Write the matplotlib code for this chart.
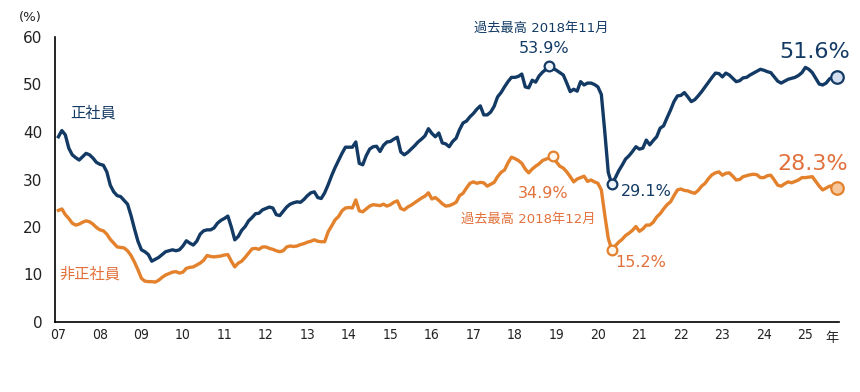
import numpy as np
import pandas as pd
import matplotlib
matplotlib.use('Agg')
import matplotlib.pyplot as plt

# 人手不足割合（月次、2007年1月〜2025年10月）
months = pd.date_range('2007-01-01', '2025-10-01', freq='MS')

seishain = [
    39.0, 40.3, 39.4, 36.6, 35.2, 34.6, 34.1, 34.8, 35.5, 35.2, 34.5, 33.6,  # 2007
    33.2, 33.0, 31.6, 28.8, 27.4, 26.6, 26.4, 25.6, 24.8, 22.4, 19.6, 17.0,  # 2008
    15.2, 14.8, 14.2, 12.8, 13.2, 13.6, 14.2, 14.8, 15.0, 15.2, 15.0, 15.2,  # 2009
    16.0, 17.1, 16.6, 16.2, 17.0, 18.5, 19.2, 19.4, 19.4, 19.8, 20.8, 21.4,  # 2010
    21.8, 22.3, 20.0, 17.3, 18.0, 19.3, 20.1, 21.3, 22.0, 22.8, 22.9, 23.6,  # 2011
    23.9, 24.2, 24.0, 22.6, 22.4, 23.3, 24.2, 24.8, 25.1, 25.3, 25.2, 25.8,  # 2012
    26.6, 27.2, 27.4, 26.2, 26.0, 27.2, 28.9, 30.8, 32.5, 34.0, 35.5, 36.8,  # 2013
    36.8, 36.8, 37.9, 33.4, 33.1, 35.0, 36.4, 36.9, 37.0, 35.9, 37.2, 37.9,  # 2014
    38.0, 38.5, 38.9, 35.8, 35.2, 35.7, 36.4, 37.1, 37.9, 38.5, 39.2, 40.7,  # 2015
    39.7, 39.0, 39.8, 37.7, 37.5, 36.9, 38.0, 38.7, 40.5, 41.9, 42.3, 43.2,  # 2016
    43.9, 44.8, 45.5, 43.6, 43.6, 44.2, 45.4, 47.4, 48.3, 49.5, 50.6, 51.5,  # 2017
    51.5, 51.7, 52.2, 49.5, 49.3, 50.9, 50.5, 51.8, 52.6, 53.2, 53.9, 53.4,  # 2018
    53.0, 52.5, 52.0, 50.3, 48.5, 49.0, 48.6, 50.6, 49.9, 50.3, 50.3, 50.0,  # 2019
    49.5, 47.9, 40.0, 31.5, 29.1, 30.3, 31.8, 33.0, 34.3, 35.0, 35.9, 36.9,  # 2020
    36.4, 36.6, 38.3, 37.3, 38.2, 39.0, 40.8, 41.3, 43.0, 44.6, 46.4, 47.6,  # 2021
    47.7, 48.3, 47.4, 46.4, 46.8, 47.6, 48.5, 49.5, 50.5, 51.5, 52.4, 52.3,  # 2022
    51.6, 52.4, 52.0, 51.3, 50.6, 50.8, 51.4, 51.5, 52.0, 52.4, 52.8, 53.2,  # 2023
    53.0, 52.7, 52.5, 51.6, 50.7, 50.3, 50.7, 51.1, 51.3, 51.5, 51.9, 52.5,  # 2024
    53.6, 53.2, 52.5, 51.3, 50.1, 49.9, 50.3, 51.2, 51.5, 51.6,              # 2025
]

hiseishain = [
    23.5, 23.8, 22.6, 21.8, 20.8, 20.4, 20.6, 21.0, 21.3, 21.1, 20.6, 19.9,  # 2007
    19.4, 19.2, 18.5, 17.4, 16.6, 15.8, 15.7, 15.6, 15.0, 14.0, 12.6, 11.0,  # 2008
    9.2, 8.6, 8.5, 8.5, 8.4, 8.8, 9.4, 9.9, 10.2, 10.5, 10.6, 10.3,          # 2009
    10.5, 11.3, 11.5, 11.6, 12.0, 12.4, 13.0, 14.0, 13.8, 13.7, 13.8, 13.9,  # 2010
    14.1, 14.2, 12.8, 11.6, 12.4, 12.8, 13.6, 14.5, 15.4, 15.5, 15.3, 15.8,  # 2011
    15.8, 15.5, 15.3, 15.0, 14.8, 15.0, 15.8, 16.0, 15.9, 16.0, 16.3, 16.5,  # 2012
    16.8, 17.0, 17.3, 17.0, 16.9, 16.9, 19.0, 20.2, 21.5, 22.2, 23.4, 24.0,  # 2013
    24.1, 24.0, 25.7, 23.4, 23.2, 23.8, 24.4, 24.7, 24.6, 24.5, 24.8, 24.4,  # 2014
    24.7, 25.2, 25.5, 23.9, 23.6, 24.2, 24.6, 25.1, 25.6, 26.1, 26.5, 27.2,  # 2015
    25.9, 26.2, 25.6, 24.9, 24.4, 24.5, 24.8, 25.2, 26.6, 27.1, 28.2, 29.2,  # 2016
    29.5, 29.2, 29.4, 29.3, 28.6, 29.0, 29.4, 30.6, 31.5, 32.0, 33.5, 34.7,  # 2017
    34.4, 34.0, 33.4, 32.2, 31.4, 32.2, 32.8, 33.3, 34.0, 34.3, 34.5, 34.9,  # 2018
    33.7, 32.8, 32.4, 31.6, 30.6, 29.5, 30.1, 30.4, 30.7, 29.6, 29.9, 29.5,  # 2019
    29.2, 27.8, 22.5, 17.6, 15.2, 16.0, 16.8, 17.4, 18.2, 18.7, 19.3, 20.1,  # 2020
    19.1, 19.6, 20.4, 20.4, 21.0, 22.1, 22.8, 23.8, 24.7, 25.3, 26.6, 27.8,  # 2021
    28.0, 27.7, 27.6, 27.3, 27.1, 27.7, 28.6, 29.2, 30.2, 31.0, 31.4, 31.6,  # 2022
    30.9, 31.3, 31.4, 30.7, 29.9, 30.0, 30.6, 30.8, 31.0, 31.1, 31.0, 30.4,  # 2023
    30.4, 30.8, 30.9, 29.9, 28.8, 28.6, 29.1, 29.5, 29.3, 29.6, 29.9, 30.4,  # 2024
    30.4, 30.5, 30.6, 29.6, 28.6, 27.8, 28.2, 28.6, 28.6, 28.3,              # 2025
]

years = list(range(2007, 2026))
year_labels = [f'{y % 100:02d}' for y in years]

NAVY = '#133a64'
ORANGE = '#e3812c'
ORANGE_TXT = '#e2703b'

plt.rcParams['font.family'] = ['DejaVu Sans', 'Noto Sans CJK JP']

x = months.year + (months.month - 1) / 12
s_navy = pd.Series(seishain, index=months)
s_orng = pd.Series(hiseishain, index=months)

fig = plt.figure(figsize=(8.6, 3.92), dpi=100)
ax = fig.add_axes([55 / 860, 1 - 322 / 392, (839 - 55) / 860, (322 - 37) / 392])

ax.plot(x, seishain, color=NAVY, lw=2.4, solid_joinstyle='round', zorder=3)
ax.plot(x, hiseishain, color=ORANGE, lw=2.4, solid_joinstyle='round', zorder=3)

ax.set_xlim(2006.918, 2025.81)
ax.set_ylim(0, 60)
ax.set_yticks(range(0, 61, 10))
ax.set_xticks(years)
ax.set_xticklabels(year_labels)
ax.tick_params(axis='y', length=0, pad=9, labelsize=11, labelcolor='#222222')
ax.tick_params(axis='x', length=0, pad=4, labelsize=10, labelcolor='#222222')
for lab in ax.get_xticklabels():
    lab.set_fontstretch('condensed')
for side in ['top', 'right']:
    ax.spines[side].set_visible(False)
for side in ['left', 'bottom']:
    ax.spines[side].set_linewidth(1.2)
    ax.spines[side].set_color('black')


def xpos(date):
    d = pd.Timestamp(date)
    return d.year + (d.month - 1) / 12


def mark(date, series, color, size, face):
    ax.plot(xpos(date), series[pd.Timestamp(date)], 'o', ms=size, mfc=face,
            mec=color, mew=1.6, zorder=5, clip_on=False)


def label(date, series, text, color, dx, dy, size, ha='center'):
    ax.annotate(text, (xpos(date), series[pd.Timestamp(date)]), xytext=(dx, dy),
                textcoords='offset pixels', ha=ha, va='center', color=color,
                fontsize=size)


# 過去最高・最低・最新
mark('2018-11-01', s_navy, NAVY, 7, '#eef3fa')
mark('2018-12-01', s_orng, ORANGE, 7, '#fff6ee')
mark('2020-05-01', s_navy, NAVY, 7, '#eef3fa')
mark('2020-05-01', s_orng, ORANGE, 7, '#fff6ee')
mark('2025-10-01', s_navy, NAVY, 9, '#d3dff0')
mark('2025-10-01', s_orng, ORANGE, 9, '#f6c79b')

label('2018-11-01', s_navy, '53.9%', NAVY, -5, 17, 11.5)
label('2018-11-01', s_navy, '過去最高 2018年11月', NAVY, -8, 38, 9.5)
label('2018-12-01', s_orng, '34.9%', ORANGE_TXT, -10, -37, 11.5)
label('2018-12-01', s_orng, '過去最高 2018年12月', ORANGE_TXT, -25, -63, 9.5)
label('2020-05-01', s_navy, '29.1%', NAVY, 9, -8, 11.5, ha='left')
label('2020-05-01', s_orng, '15.2%', ORANGE_TXT, 4, -13, 11.5, ha='left')
label('2025-10-01', s_navy, '51.6%', NAVY, -22, 25, 16)
label('2025-10-01', s_orng, '28.3%', ORANGE_TXT, -24, 24, 16)

ax.text(2007.83, 44.0, '正社員', color=NAVY, fontsize=11, ha='center', va='center')
ax.text(2007.76, 10.1, '非正社員', color=ORANGE_TXT, fontsize=11, ha='center', va='center')

fig.text(30 / 860, 1 - 18 / 392, '(%)', fontsize=9.5, ha='center', va='center', color='#222222')
ax.text(2025.64, -0.035, '年', transform=ax.get_xaxis_transform(), fontsize=9.5,
        ha='center', va='top', color='#222222')

fig.savefig('out.png', dpi=100, facecolor='white')
